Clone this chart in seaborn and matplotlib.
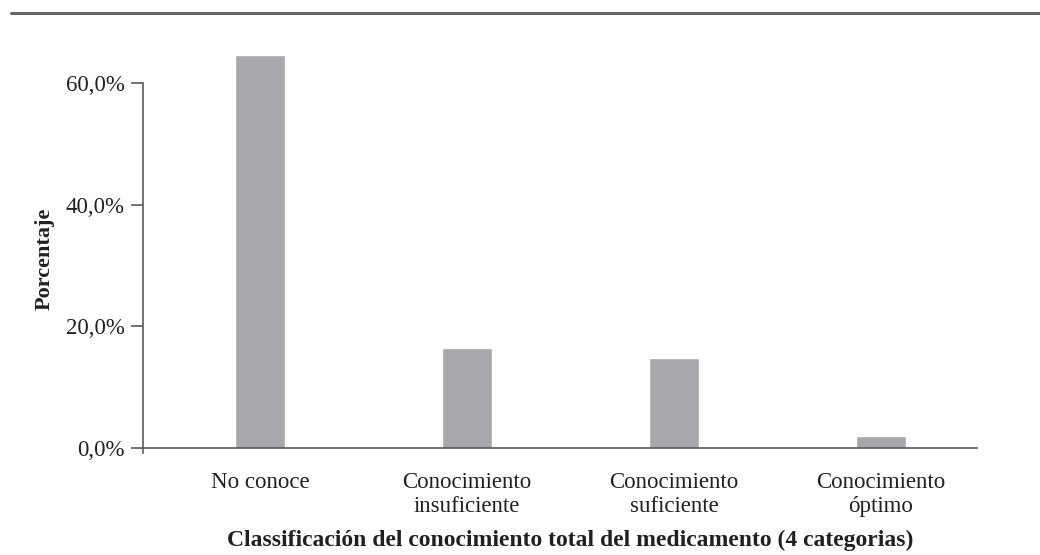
import matplotlib
matplotlib.use("Agg")
import matplotlib.pyplot as plt
import seaborn as sns
import pandas as pd
from matplotlib.lines import Line2D
from matplotlib.ticker import FuncFormatter

# data
categorias = ["No conoce", "Conocimiento\ninsuficiente",
              "Conocimiento\nsuficiente", "Conocimiento\nóptimo"]
porcentaje = [64.6, 16.4, 14.8, 2.0]
y_ticks = [0, 20, 40, 60]

df = pd.DataFrame({"categoria": categorias, "porcentaje": porcentaje})

sns.set_theme(style="white")
plt.rcParams["font.family"] = ["Liberation Serif", "DejaVu Serif"]
text_color = "#231f20"
axis_color = "#5a5a5a"

fig = plt.figure(figsize=(10.4, 5.55), dpi=100)
ax = fig.add_axes([0.1375, 0.1838, 0.8019, 0.7759])

sns.barplot(data=df, x="categoria", y="porcentaje", color="#a7a8ab",
            width=0.24, saturation=1, ax=ax)

ax.set_xlim(-0.565, 3.464)
ax.set_ylim(-0.8, 70)
ax.set_yticks(y_ticks)
ax.yaxis.set_major_formatter(FuncFormatter(lambda v, _: f"{v:.1f}%".replace(".", ",")))

for s in ["top", "right"]:
    ax.spines[s].set_visible(False)
ax.spines["left"].set_bounds(-0.8, 60)
ax.spines["bottom"].set_position(("data", 0))
for s in ["left", "bottom"]:
    ax.spines[s].set_color(axis_color)
    ax.spines[s].set_linewidth(1.2)

ax.tick_params(axis="y", length=9, width=1.2, color=axis_color, pad=4,
               labelsize=16.5, labelcolor=text_color, left=True)
ax.tick_params(axis="x", length=0, pad=17, labelsize=16.5, labelcolor=text_color)
for lbl in ax.get_xticklabels():
    lbl.set_linespacing(1.2)

ax.set_xlabel("Classificación del conocimiento total del medicamento (4 categorias)",
              fontsize=17, fontweight="bold", color=text_color)
ax.set_ylabel("Porcentaje", fontsize=16, fontweight="bold", color=text_color)
ax.xaxis.label.set_va("center")
ax.xaxis.set_label_coords(0.512, -0.202)
ax.yaxis.label.set_va("center")
ax.yaxis.set_label_coords(-0.118, 0.45)

# rule across the top of the figure
fig.add_artist(Line2D([0.011, 1.0], [0.977, 0.977], transform=fig.transFigure,
                      color="#666666", linewidth=2.2))

fig.savefig("out.png", dpi=100)
